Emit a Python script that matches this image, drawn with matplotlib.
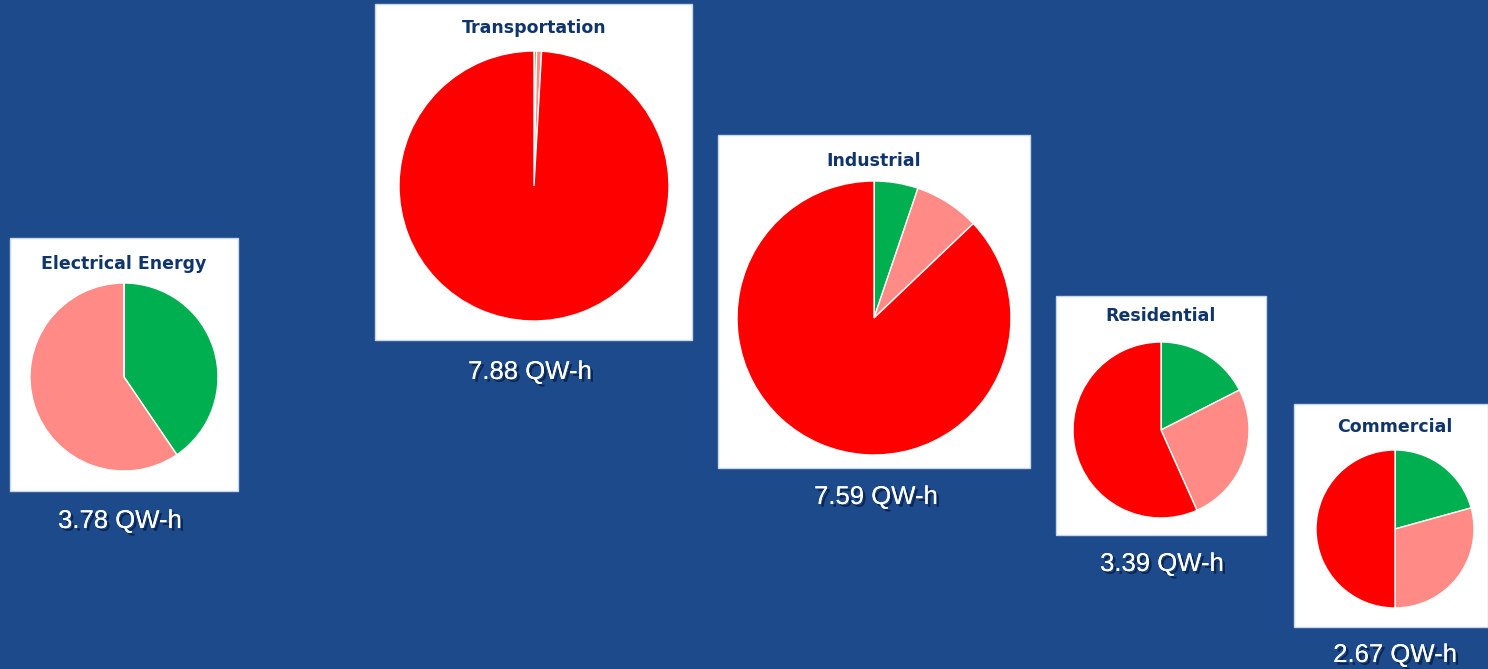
import numpy as np
from matplotlib import pyplot as plt
from matplotlib.patches import Rectangle
import matplotlib.patheffects as pe

# energy use by sector, share of each source (%)
sectors = ['Electrical Energy', 'Transportation', 'Industrial', 'Residential', 'Commercial']
totals = [3.78, 7.88, 7.59, 3.39, 2.67]   # QW-h
green_share = [40.5, 0.3, 5.2, 17.5, 20.7]
pink_share = [59.5, 0.6, 7.7, 25.8, 29.3]
red_share = [0.0, 99.1, 87.1, 56.7, 50.0]

W, H = 1488, 669

# layout in pixels: white box (x0, y0, x1, y1), pie centre + radius, title y, label pos
boxes = [(10, 238, 238, 491), (375, 4, 692, 340), (718, 135, 1030, 468),
         (1056, 296, 1266, 535), (1294, 404, 1488, 627)]
pies = [(124, 377, 94), (534, 186, 135), (874, 318, 137), (1161, 430, 88), (1395, 529, 79)]
title_y = [264, 28, 161, 316, 427]
label_xy = [(120, 521), (530, 372), (876, 497), (1162, 564), (1395, 655)]

colors = ['#00b050', '#ff8a86', '#ff0000']

fig = plt.figure(figsize=(W / 100, H / 100), dpi=100)
fig.patch.set_facecolor('#1c4a8b')

def fx(x):
    return x / W

def fy(y):
    return 1 - y / H

for i, name in enumerate(sectors):
    x0, y0, x1, y1 = boxes[i]
    fig.add_artist(Rectangle((fx(x0), fy(y1)), (x1 - x0) / W, (y1 - y0) / H,
                             transform=fig.transFigure, facecolor='white',
                             edgecolor='#c9d6ea', linewidth=1, zorder=-1))
    cx, cy, r = pies[i]
    fig.text(fx(cx), fy(title_y[i]), name, ha='center', va='center',
             fontsize=12.5, fontweight='bold', color='#10356a', family='DejaVu Sans')

    ax = fig.add_axes([fx(cx - r), fy(cy + r), 2 * r / W, 2 * r / H])
    ax.set_zorder(1)
    vals = [green_share[i], pink_share[i], red_share[i]]
    ax.pie(vals, colors=colors, startangle=90, counterclock=False,
           wedgeprops=dict(edgecolor='white', linewidth=1.0))
    ax.set_xlim(-1.0, 1.0)
    ax.set_ylim(-1.0, 1.0)
    ax.axis('off')

    lx, ly = label_xy[i]
    label = f'{totals[i]:.2f} QW-h'
    fig.text(fx(lx), fy(ly), label, ha='center', va='center',
             fontsize=18.5, color='white', family='Liberation Sans',
             path_effects=[pe.withSimplePatchShadow(offset=(2, -2), shadow_rgbFace='#06183a', alpha=0.7),
                           pe.Normal()])

fig.savefig('out.png', dpi=100, facecolor=fig.get_facecolor())
